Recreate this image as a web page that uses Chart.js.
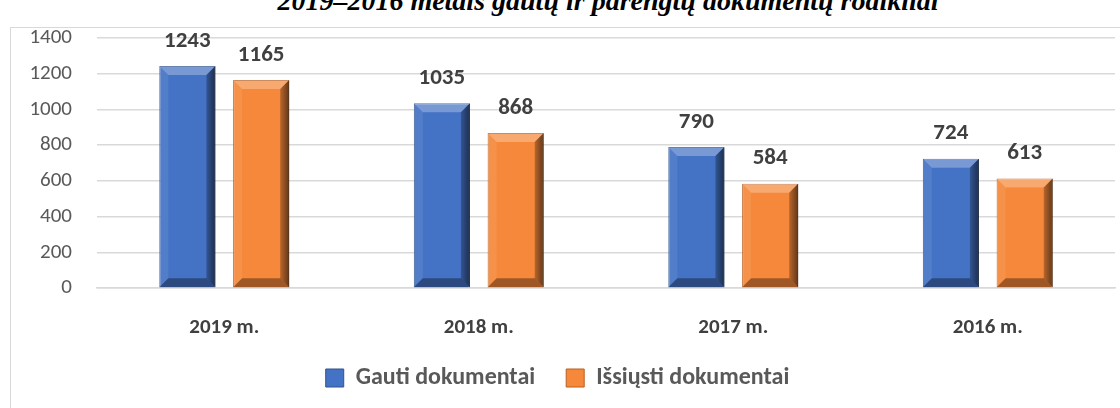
<!DOCTYPE html>
<html>
<head>
<meta charset="utf-8">
<script src="https://cdn.jsdelivr.net/npm/chart.js@4"></script>
<style>
  body { margin: 0; width: 1120px; height: 408px; overflow: hidden; background: #fff; position: relative; }
  #title { position: absolute; left: 0; width: 1216px; top: -13px; text-align: center;
    font: italic bold 28px "Liberation Serif", "Times New Roman", serif; line-height: 28px; color: #000; white-space: nowrap; }
  #frame { position: absolute; left: 10px; top: 27px; width: 1120px; height: 400px; border: 1.5px solid #d9d9d9; }
  #wrap { position: absolute; left: 0; top: 0; width: 1120px; height: 408px; }
</style>
</head>
<body>
<div id="title">2019–2016 metais gautų ir parengtų dokumentų rodikliai</div>
<div id="frame"></div>
<div id="wrap"><canvas id="barChart"></canvas></div>
<script>
var labels = ["2019 m.", "2018 m.", "2017 m.", "2016 m."];
var gauti = [1243, 1035, 790, 724];
var issiusti = [1165, 868, 584, 613];
var yTicks = [0, 200, 400, 600, 800, 1000, 1200, 1400];

var fontFamily = "Carlito, Lato, 'Open Sans', sans-serif";

// bevel look like the Excel bars
var bevel = {
  id: "bevel",
  afterDatasetsDraw(chart) {
    var ctx = chart.ctx;
    chart.data.datasets.forEach(function (ds, i) {
      chart.getDatasetMeta(i).data.forEach(function (bar) {
        var l = bar.x - bar.width / 2, r = bar.x + bar.width / 2;
        var t = bar.y, b = bar.base, e = 9;
        ctx.save();
        ctx.fillStyle = "rgba(255,255,255,0.28)";
        ctx.beginPath();
        ctx.moveTo(l, t); ctx.lineTo(r, t); ctx.lineTo(r - e, t + e); ctx.lineTo(l + e, t + e); ctx.closePath(); ctx.fill();
        ctx.fillStyle = "rgba(255,255,255,0.08)";
        ctx.beginPath();
        ctx.moveTo(l, t); ctx.lineTo(l + e, t + e); ctx.lineTo(l + e, b - e); ctx.lineTo(l, b); ctx.closePath(); ctx.fill();
        var g = ctx.createLinearGradient(r - e, 0, r, 0);
        g.addColorStop(0, "rgba(0,0,0,0.25)");
        g.addColorStop(1, "rgba(0,0,0,0.6)");
        ctx.fillStyle = g;
        ctx.beginPath();
        ctx.moveTo(r, t); ctx.lineTo(r, b); ctx.lineTo(r - e, b - e); ctx.lineTo(r - e, t + e); ctx.closePath(); ctx.fill();
        ctx.fillStyle = "rgba(0,0,0,0.35)";
        ctx.beginPath();
        ctx.moveTo(l, b); ctx.lineTo(r, b); ctx.lineTo(r - e, b - e); ctx.lineTo(l + e, b - e); ctx.closePath(); ctx.fill();
        ctx.restore();
      });
    });
  }
};

// value labels above bars
var valueLabels = {
  id: "valueLabels",
  afterDatasetsDraw(chart) {
    var ctx = chart.ctx;
    ctx.save();
    ctx.font = "bold 23px " + fontFamily;
    ctx.fillStyle = "#404040";
    ctx.textAlign = "center";
    ctx.textBaseline = "middle";
    chart.data.datasets.forEach(function (ds, i) {
      chart.getDatasetMeta(i).data.forEach(function (bar, j) {
        ctx.fillText(ds.data[j], bar.x, bar.y - 25);
      });
    });
    ctx.restore();
  }
};

var data = {
  labels: labels,
  datasets: [{
    label: "Gauti dokumentai",
    data: gauti,
    backgroundColor: "#4472c4",
    borderColor: "#2f528f",
    borderWidth: 1,
    barPercentage: 0.76,
    categoryPercentage: 0.58
  }, {
    label: "Išsiųsti dokumentai",
    data: issiusti,
    backgroundColor: "#f5883a",
    borderColor: "#b85f20",
    borderWidth: 1,
    barPercentage: 0.76,
    categoryPercentage: 0.58
  }]
};

var config = {
  type: "bar",
  data: data,
  plugins: [bevel, valueLabels],
  options: {
    responsive: true,
    maintainAspectRatio: false,
    animation: false,
    layout: { padding: { top: 38, right: 5, left: 0, bottom: 8 } },
    scales: {
      y: {
        min: 0,
        max: 1400,
        afterFit: function (s) { s.width = 97; },
        afterBuildTicks: function (s) { s.ticks = yTicks.map(function (v) { return { value: v }; }); },
        ticks: {
          color: "#595959",
          font: { size: 21, family: fontFamily },
          padding: 25,
          callback: function (v) { return String(v); }
        },
        grid: { color: "#d9d9d9", lineWidth: 1.5, drawTicks: false },
        border: { display: false }
      },
      x: {
        afterFit: function (s) { s.height = 47; },
        ticks: { color: "#404040", font: { size: 21, weight: "bold", family: fontFamily }, padding: 19 },
        grid: { display: false },
        border: { color: "#d9d9d9", width: 1.5 }
      }
    },
    plugins: {
      legend: {
        position: "bottom",
        labels: {
          color: "#595959",
          font: { size: 24, weight: "bold", family: fontFamily },
          usePointStyle: true,
          pointStyle: "rect",
          boxWidth: 18,
          boxHeight: 18,
          padding: 31
        }
      },
      tooltip: { enabled: false }
    }
  }
};

var barChart = new Chart(document.getElementById("barChart"), config);
</script>
</body>
</html>
